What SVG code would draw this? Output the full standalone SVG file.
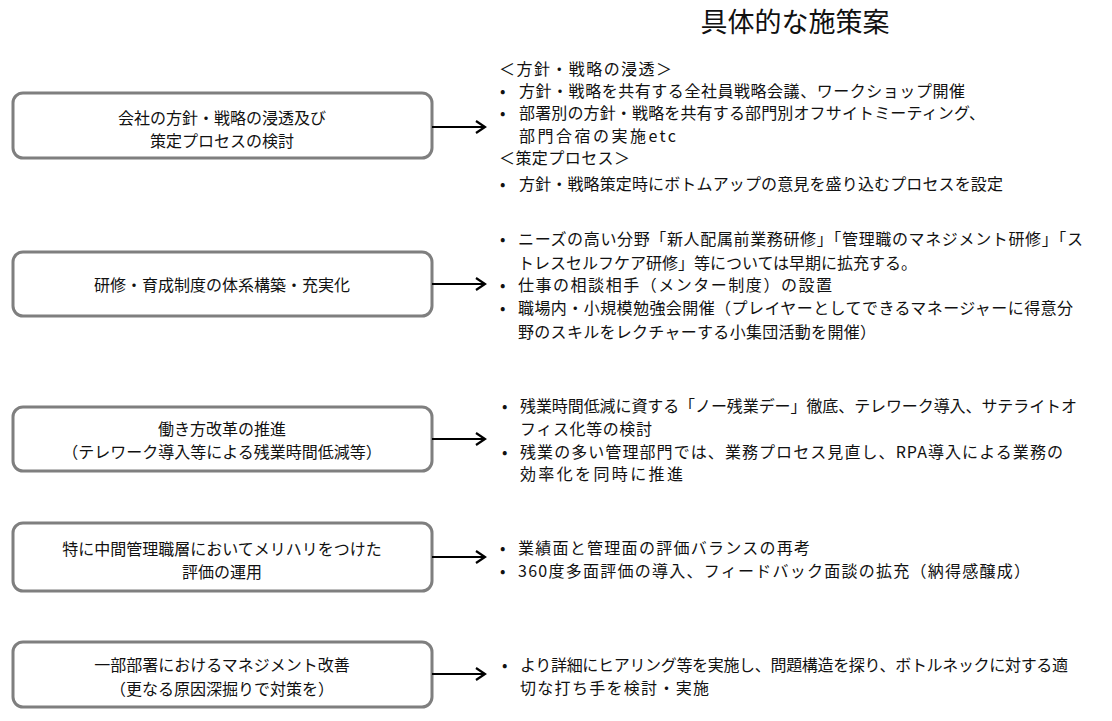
<svg xmlns="http://www.w3.org/2000/svg" width="1112" height="721" viewBox="0 0 1112 721">
<defs>
<marker id="arr" markerWidth="14" markerHeight="14" refX="11" refY="7" orient="auto" markerUnits="userSpaceOnUse">
<path d="M2,1 L11,7 L2,13" fill="none" stroke="#000" stroke-width="2.2"/>
</marker>
<style>
text{font-family:"Meiryo","Noto Sans CJK JP","Noto Sans",sans-serif;fill:#111;font-size:16px;dominant-baseline:central}
.box{fill:#fff;stroke:#7f7f7f;stroke-width:3}
.c{text-anchor:middle}
.con line{stroke:#000;stroke-width:2.2;marker-end:url(#arr)}
.title{font-size:27px}
</style>
</defs>
<rect width="1112" height="721" fill="#fff"/>
<text class="title c" x="795" y="20">具体的な施策案</text>

<g id="n1"><rect class="box" x="13" y="93" width="419" height="65" rx="10"/>
<text class="c" x="222" y="117">会社の方針・戦略の浸透及び</text>
<text class="c" x="222" y="140">策定プロセスの検討</text></g>
<g id="n2"><rect class="box" x="13" y="252" width="419" height="64" rx="10"/>
<text class="c" x="222" y="284">研修・育成制度の体系構築・充実化</text></g>
<g id="n3"><rect class="box" x="13" y="407" width="419" height="64" rx="10"/>
<text class="c" x="222" y="428">働き方改革の推進</text>
<text class="c" x="222" y="451">（テレワーク導入等による残業時間低減等）</text></g>
<g id="n4"><rect class="box" x="13" y="523" width="419" height="68" rx="10"/>
<text class="c" x="222" y="548">特に中間管理職層においてメリハリをつけた</text>
<text class="c" x="222" y="571">評価の運用</text></g>
<g id="n5"><rect class="box" x="13" y="642" width="419" height="65" rx="10"/>
<text class="c" x="222" y="664">一部部署におけるマネジメント改善</text>
<text class="c" x="222" y="688">（更なる原因深掘りで対策を）</text></g>

<g id="connectors" class="con">
<line x1="432" y1="127" x2="485" y2="127"/>
<line x1="432" y1="284" x2="485" y2="284"/>
<line x1="432" y1="439" x2="485" y2="439"/>
<line x1="432" y1="557" x2="485" y2="557"/>
<line x1="432" y1="674" x2="485" y2="674"/>
</g>

<g id="d1">
<text x="499" y="68" textLength="173">＜方針・戦略の浸透＞</text>
<text x="500" y="90">•</text><text x="519" y="90" textLength="446">方針・戦略を共有する全社員戦略会議、ワークショップ開催</text>
<text x="500" y="112">•</text><text x="519" y="112" textLength="466">部署別の方針・戦略を共有する部門別オフサイトミーティング、</text>
<text x="519" y="135" textLength="157">部門合宿の実施etc</text>
<text x="499" y="157" textLength="131">＜策定プロセス＞</text>
<text x="500" y="183">•</text><text x="519" y="183" textLength="484">方針・戦略策定時にボトムアップの意見を盛り込むプロセスを設定</text>
</g>
<g id="d2">
<text x="500" y="238">•</text><text x="518" y="238" textLength="565">ニーズの高い分野「新人配属前業務研修」「管理職のマネジメント研修」「ス</text>
<text x="518" y="262" textLength="399">トレスセルフケア研修」等については早期に拡充する。</text>
<text x="500" y="284">•</text><text x="518" y="284" textLength="314">仕事の相談相手（メンター制度）の設置</text>
<text x="500" y="307">•</text><text x="518" y="307" textLength="555">職場内・小規模勉強会開催（プレイヤーとしてできるマネージャーに得意分</text>
<text x="518" y="331" textLength="358">野のスキルをレクチャーする小集団活動を開催）</text>
</g>
<g id="d3">
<text x="502" y="405">•</text><text x="520" y="405" textLength="557">残業時間低減に資する「ノー残業デー」徹底、テレワーク導入、サテライトオ</text>
<text x="520" y="428" textLength="132">フィス化等の検討</text>
<text x="502" y="451">•</text><text x="520" y="451" textLength="543">残業の多い管理部門では、業務プロセス見直し、RPA導入による業務の</text>
<text x="520" y="473" textLength="163">効率化を同時に推進</text>
</g>
<g id="d4">
<text x="500" y="547">•</text><text x="518" y="547" textLength="292">業績面と管理面の評価バランスの再考</text>
<text x="500" y="570">•</text><text x="518" y="570" textLength="512">360度多面評価の導入、フィードバック面談の拡充（納得感醸成）</text>
</g>
<g id="d5">
<text x="502" y="664">•</text><text x="520" y="664" textLength="548">より詳細にヒアリング等を実施し、問題構造を探り、ボトルネックに対する適</text>
<text x="520" y="687" textLength="189">切な打ち手を検討・実施</text>
</g>
</svg>
